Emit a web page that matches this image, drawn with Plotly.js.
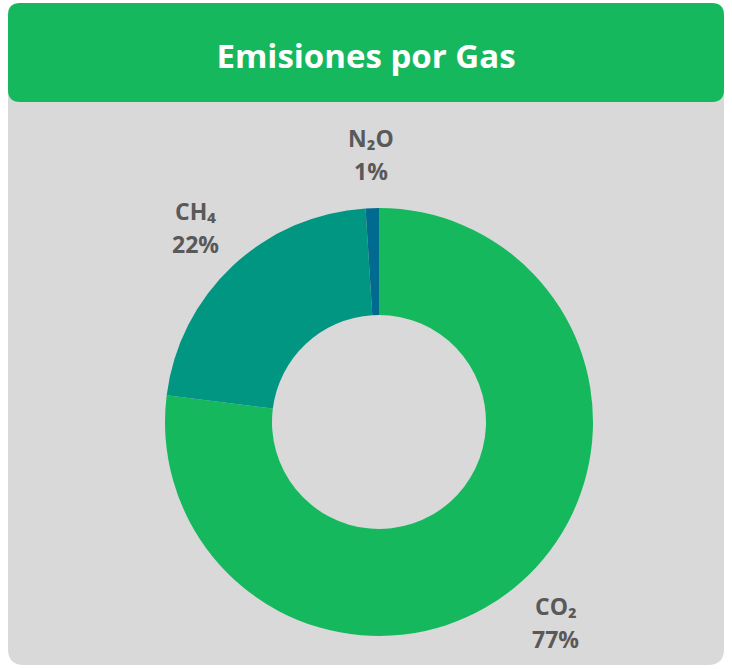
<!DOCTYPE html>
<html>
<head>
<meta charset="utf-8">
<script src="https://cdn.plot.ly/plotly-3.0.1.min.js"></script>
<style>html,body{margin:0;padding:0;background:#fff;}#chart{width:732px;height:669px;}</style>
</head>
<body>
<div id="chart"></div>
<script>
const gases = ["CO₂", "CH₄", "N₂O"];
const shares = [77, 22, 1];
const colors = ["#16b85e", "#009682", "#006b8f"];
const chartTitle = "Emisiones por Gas";

const W = 732, H = 669;
function px(x){return x / W;}
function py(y){return 1 - y / H;}
function roundRect(x0, y0, x1, y1, r){
  const p = (x, y) => px(x).toFixed(5) + "," + py(y).toFixed(5);
  return "M" + p(x0 + r, y0) + " L" + p(x1 - r, y0) + " Q" + p(x1, y0) + " " + p(x1, y0 + r) +
    " L" + p(x1, y1 - r) + " Q" + p(x1, y1) + " " + p(x1 - r, y1) +
    " L" + p(x0 + r, y1) + " Q" + p(x0, y1) + " " + p(x0, y1 - r) +
    " L" + p(x0, y0 + r) + " Q" + p(x0, y0) + " " + p(x0 + r, y0) + " Z";
}

const domX = [165 / W, 593 / W];
const domY = [(247 - 214) / H, (247 + 214) / H];

const trace = {
  type: "pie",
  labels: gases,
  values: shares,
  hole: 0.5,
  sort: false,
  direction: "clockwise",
  rotation: 0,
  marker: {colors: colors, line: {width: 0}},
  textinfo: "none",
  showlegend: false,
  domain: {x: domX, y: domY}
};

// Labels placed along each slice's mid-angle, outside the ring
const total = shares.reduce((a, b) => a + b, 0);
const cxPx = (domX[0] + domX[1]) / 2 * W;
const cyPx = (1 - (domY[0] + domY[1]) / 2) * H;
const Rpx = Math.min((domX[1] - domX[0]) * W, (domY[1] - domY[0]) * H) / 2;
const labelFont = {family: "Open Sans", size: 23, color: "#595959", weight: "bold"};
const annotations = [];
let cum = 0;
shares.forEach((v, i) => {
  const mid = (cum + v / 2) / total * 2 * Math.PI;
  cum += v;
  const lx = cxPx + 1.25 * Rpx * Math.sin(mid);
  const ly = cyPx - 1.25 * Rpx * Math.cos(mid);
  const pct = Math.round(v / total * 100) + "%";
  annotations.push({xref: "paper", yref: "paper", x: px(lx), y: py(ly), xanchor: "center", yanchor: "middle",
    text: "<b>" + gases[i] + "</b>", showarrow: false, font: labelFont, yshift: 16.5});
  annotations.push({xref: "paper", yref: "paper", x: px(lx), y: py(ly), xanchor: "center", yanchor: "middle",
    text: "<b>" + pct + "</b>", showarrow: false, font: labelFont, yshift: -16.5});
});

const layout = {
  width: W, height: H,
  margin: {l: 0, r: 0, t: 0, b: 0},
  paper_bgcolor: "#ffffff",
  showlegend: false,
  title: {
    text: "<b>" + chartTitle + "</b>",
    x: 0.5, xanchor: "center",
    y: py(56), yanchor: "middle",
    font: {family: "Open Sans", size: 33, color: "#ffffff"}
  },
  annotations: annotations,
  shapes: [
    {type: "path", xref: "paper", yref: "paper", layer: "below",
     path: roundRect(8, 60, 724, 665, 16), fillcolor: "#d9d9d9", line: {width: 0}},
    {type: "path", xref: "paper", yref: "paper", layer: "below",
     path: roundRect(8, 3, 724, 102, 12), fillcolor: "#16b85e", line: {width: 0}}
  ]
};

Plotly.newPlot("chart", [trace], layout, {displayModeBar: false, staticPlot: true});
</script>
</body>
</html>
